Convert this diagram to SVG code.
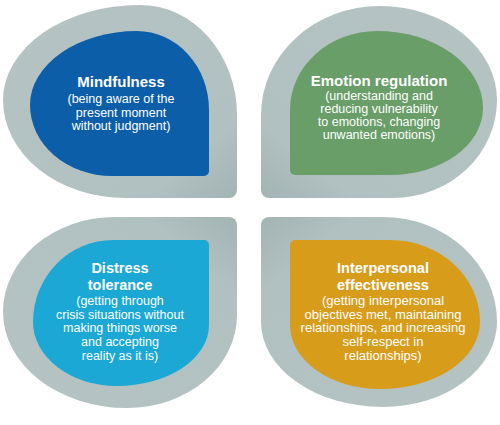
<svg xmlns="http://www.w3.org/2000/svg" width="500" height="425" viewBox="0 0 500 425">
  <defs>
    <linearGradient id="gTL" x1="0" y1="0" x2="1" y2="1">
      <stop offset="0" stop-color="#b5c3c3"/>
      <stop offset="0.8" stop-color="#b1c0c0"/>
      <stop offset="1" stop-color="#a3b4b4"/>
    </linearGradient>
    <linearGradient id="gTR" x1="1" y1="0" x2="0" y2="1">
      <stop offset="0" stop-color="#b5c3c3"/>
      <stop offset="0.8" stop-color="#b1c0c0"/>
      <stop offset="1" stop-color="#a3b4b4"/>
    </linearGradient>
    <linearGradient id="gBL" x1="0" y1="1" x2="1" y2="0">
      <stop offset="0" stop-color="#b5c3c3"/>
      <stop offset="0.8" stop-color="#b1c0c0"/>
      <stop offset="1" stop-color="#a3b4b4"/>
    </linearGradient>
    <linearGradient id="gBR" x1="1" y1="1" x2="0" y2="0">
      <stop offset="0" stop-color="#b5c3c3"/>
      <stop offset="0.8" stop-color="#b1c0c0"/>
      <stop offset="1" stop-color="#a3b4b4"/>
    </linearGradient>
  </defs>
  <style>
    text { font-family: "Liberation Sans", Arial, Helvetica, sans-serif; fill: #ffffff; text-anchor: middle; }
    .title { font-size: 15px; font-weight: bold; }
    .title2 { font-size: 14.5px; font-weight: bold; }
    .sub { font-size: 12.5px; }
    .sub13 { font-size: 13px; }
    .blue { fill: #0d5ea8; }
    .green { fill: #699e68; }
    .cyan { fill: #1ba8d5; }
    .orange { fill: #d89c1b; }
  </style>

  <g id="mindfulness">
    <path fill="url(#gTL)" d="M140,5 A97,110 0 0 1 237,115 L237,190 A8,8 0 0 1 229,198 L125,198 A122,98 0 0 1 3,100 A137,95 0 0 1 140,5 Z"/>
    <path class="blue" d="M137,31 A72,79 0 0 1 209,110 L209,171 A5,5 0 0 1 204,176 L112,176 A82,71 0 0 1 30,105 A107,74 0 0 1 137,31 Z"/>
    <text class="title" x="121" y="87">Mindfulness</text>
    <text class="sub" x="121" y="103">(being aware of the</text>
    <text class="sub" x="121" y="116.5">present moment</text>
    <text class="sub" x="121" y="130">without judgment)</text>
  </g>

  <g id="emotion-regulation">
    <path fill="url(#gTR)" d="M380,6 A117,94 0 0 1 497,100 A104,98 0 0 1 393,198 L269,198 A8,8 0 0 1 261,190 L261,115 A119,109 0 0 1 380,6 Z"/>
    <path class="green" d="M377,31 A106,77 0 0 1 483,108 A93,67 0 0 1 390,175 L295,175 A5,5 0 0 1 290,170 L290,110 A87,79 0 0 1 377,31 Z"/>
    <text class="title" x="379" y="86">Emotion regulation</text>
    <text class="sub" x="379" y="99.5">(understanding and</text>
    <text class="sub" x="379" y="112.8">reducing vulnerability</text>
    <text class="sub" x="379" y="126.1">to emotions, changing</text>
    <text class="sub" x="379" y="139.4">unwanted emotions)</text>
  </g>

  <g id="distress-tolerance">
    <path fill="url(#gBL)" d="M3,312 A112,95 0 0 1 115,217 L229,217 A8,8 0 0 1 237,225 L237,315 A110,93 0 0 1 127,408 A124,96 0 0 1 3,312 Z"/>
    <path class="cyan" d="M33,322 A80,82 0 0 1 113,240 L204,240 A5,5 0 0 1 209,245 L209,325 A92,61 0 0 1 117,386 A84,64 0 0 1 33,322 Z"/>
    <text class="title2" x="120" y="273">Distress</text>
    <text class="title2" x="120" y="289.5">tolerance</text>
    <text class="sub" x="120" y="304.8">(getting through</text>
    <text class="sub" x="120" y="318.5">crisis situations without</text>
    <text class="sub" x="120" y="332.2">making things worse</text>
    <text class="sub" x="120" y="345.9">and accepting</text>
    <text class="sub" x="120" y="359.6">reality as it is)</text>
  </g>

  <g id="interpersonal-effectiveness">
    <path fill="url(#gBR)" d="M269,217 L383,217 A114,105 0 0 1 497,322 A114,85 0 0 1 383,407 A122,85 0 0 1 261,322 L261,225 A8,8 0 0 1 269,217 Z"/>
    <path class="orange" d="M295,240 L390,240 A90,82 0 0 1 480,322 A100,67 0 0 1 380,389 A90,64 0 0 1 290,325 L290,245 A5,5 0 0 1 295,240 Z"/>
    <text class="title2" x="383" y="273">Interpersonal</text>
    <text class="title2" x="383" y="289.5">effectiveness</text>
    <text class="sub13" x="383" y="304.8">(getting interpersonal</text>
    <text class="sub13" x="383" y="318.5">objectives met, maintaining</text>
    <text class="sub13" x="383" y="332.2">relationships, and increasing</text>
    <text class="sub13" x="383" y="345.9">self-respect in</text>
    <text class="sub13" x="383" y="359.6">relationships)</text>
  </g>

  <g id="connectors"></g>
</svg>
